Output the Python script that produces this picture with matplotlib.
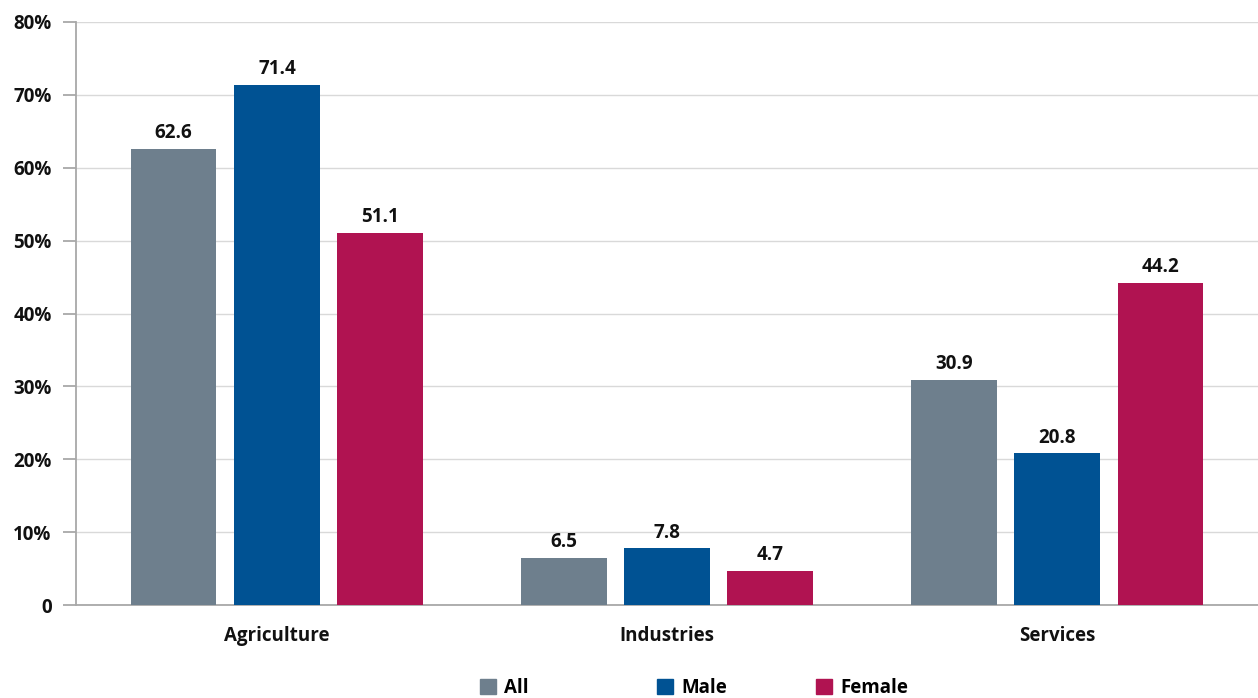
import matplotlib
matplotlib.use("Agg")
import matplotlib.pyplot as plt
from matplotlib.patches import Patch
import numpy as np

plt.rcParams['font.family'] = ['Open Sans', 'DejaVu Sans']

categories = ["Agriculture", "Industries", "Services"]
series_names = ["All", "Male", "Female"]
all_vals = [62.6, 6.5, 30.9]
male_vals = [71.4, 7.8, 20.8]
female_vals = [51.1, 4.7, 44.2]
y_ticks = [0, 10, 20, 30, 40, 50, 60, 70, 80]
y_tick_labels = ["0", "10%", "20%", "30%", "40%", "50%", "60%", "70%", "80%"]

colors = ["#6e7f8d", "#005293", "#b01351"]
series = [all_vals, male_vals, female_vals]
FS = 13.5

fig = plt.figure(figsize=(12.58, 6.98), dpi=100)
ax = fig.add_axes([0.0604, 0.1332, 0.9396, 0.8353])

x = np.arange(len(categories))
width = 0.22
step = 0.265
for i, (vals, col) in enumerate(zip(series, colors)):
    pos = x + (i - 1) * step
    bars = ax.bar(pos, vals, width=width, color=col, zorder=3)
    for b, v in zip(bars, vals):
        ax.annotate(f"{v:.1f}", (b.get_x() + b.get_width() / 2, v),
                    xytext=(0, 4), textcoords="offset points",
                    ha="center", va="bottom", fontsize=FS,
                    fontweight="bold", color="#111111")

ax.set_xlim(-0.515, 2.515)
ax.set_ylim(0, 80)
ax.set_yticks(y_ticks)
ax.set_yticklabels(y_tick_labels)
ax.set_xticks(x)
ax.set_xticklabels(categories)

ax.yaxis.grid(True, color="#d9d9d9", linewidth=1, zorder=0)
ax.set_axisbelow(True)
for s in ["top", "right"]:
    ax.spines[s].set_visible(False)
for s in ["left", "bottom"]:
    ax.spines[s].set_color("#a8a8a8")
    ax.spines[s].set_linewidth(1.3)

ax.tick_params(axis="y", length=9.5, width=1.3, color="#a8a8a8", pad=8,
               labelsize=FS, labelcolor="#111111")
ax.tick_params(axis="x", length=0, pad=15, labelsize=FS, labelcolor="#111111")
for lab in ax.get_yticklabels() + ax.get_xticklabels():
    lab.set_fontweight("bold")

# legend entries placed individually along the bottom
legend_x = [0.3815, 0.5222, 0.6485]
for name, col, lx in zip(series_names, colors, legend_x):
    fig.legend(handles=[Patch(facecolor=col, edgecolor=col)], labels=[name],
               loc="center left", bbox_to_anchor=(lx, 0.015),
               frameon=False, handlelength=0.85, handleheight=0.85,
               handletextpad=0.45, borderpad=0, borderaxespad=0,
               prop={"size": FS, "weight": "bold"})

fig.savefig("out.png", dpi=100)
